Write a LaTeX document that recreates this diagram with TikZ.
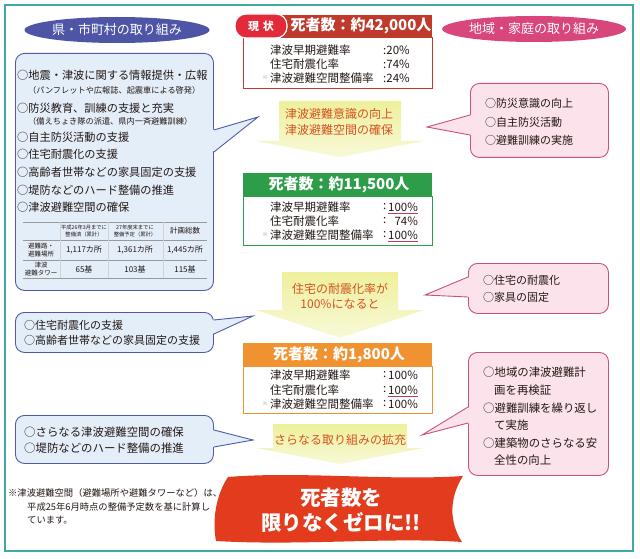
\documentclass[tikz,border=0pt]{standalone}
\usepackage{fontspec}
\setmainfont{Noto Sans CJK JP}
\usetikzlibrary{shapes.geometric,calc}

\definecolor{framecol}{HTML}{3FA9A5}
\definecolor{kenblue}{HTML}{4E55A6}
\definecolor{chiikipink}{HTML}{D9467C}
\definecolor{bluefill}{HTML}{E4EEF9}
\definecolor{blueline}{HTML}{4D5BA8}
\definecolor{pinkfill}{HTML}{FCE3EB}
\definecolor{pinkline}{HTML}{C9507F}
\definecolor{genjored}{HTML}{BF3A2B}
\definecolor{genjotag}{HTML}{E32A3B}
\definecolor{stepgreen}{HTML}{2E9D4A}
\definecolor{steporange}{HTML}{F0922F}
\definecolor{arrowtop}{HTML}{EEF09C}
\definecolor{arrowbot}{HTML}{F8F9D8}
\definecolor{arrowtext}{HTML}{D4521E}
\definecolor{zerored}{HTML}{E33B1E}
\definecolor{ulred}{HTML}{C23A5E}
\definecolor{inktext}{HTML}{231815}

\tikzset{
  headoval/.style={ellipse, inner sep=0pt, text=white, minimum height=26pt,
    font=\fontsize{13}{15}\selectfont},
  bluecall/.style={rectangle, rounded corners=9pt, draw=blueline, fill=bluefill,
    line width=0.9pt, anchor=north west, inner sep=0pt},
  pinkcall/.style={rectangle, rounded corners=9pt, draw=pinkline, fill=pinkfill,
    line width=0.9pt, anchor=north west, inner sep=0pt},
  item/.style={anchor=west, inner sep=0pt, text=inktext, font=\fontsize{11.2}{13}\selectfont},
  subitem/.style={anchor=west, inner sep=0pt, text=inktext, font=\fontsize{8.2}{10}\selectfont},
  dhead/.style={rectangle, anchor=north west, minimum width=189pt, minimum height=22pt, inner sep=0pt},
  dbody/.style={rectangle, anchor=north west, fill=white, line width=0.9pt,
    minimum width=189pt, inner sep=0pt},
  dtitle/.style={text=white, inner sep=0pt, font=\bfseries\fontsize{15}{17}\selectfont},
  rowtxt/.style={anchor=west, inner sep=0pt, text=inktext, font=\fontsize{11.5}{13}\selectfont},
  arrowtxt/.style={align=center, text=arrowtext, inner sep=0pt, font=\fontsize{12}{15.5}\selectfont},
  tabtxt/.style={align=center, inner sep=0pt, text=inktext, font=\fontsize{8}{9}\selectfont},
}

\begin{document}
\begin{tikzpicture}[x=1pt, y=-1pt]
  \useasboundingbox (0,0) rectangle (640,559);
  \fill[white] (0,0) rectangle (640,559);
  \draw[framecol, line width=1.6pt] (5,5) rectangle (633,551);

  % titles
  \node[headoval, fill=kenblue, minimum width=185pt] (kenTitle) at (117,30) {県・市町村の取り組み};
  \node[headoval, fill=chiikipink, minimum width=182pt] (chiikiTitle) at (534,29) {地域・家庭の取り組み};

  % left callouts
  \node[bluecall, minimum width=198pt, minimum height=237pt] (kenA) at (15,53) {};
  \node[bluecall, minimum width=198pt, minimum height=40pt] (kenB) at (15,312) {};
  \node[bluecall, minimum width=198pt, minimum height=48pt] (kenC) at (15,415) {};
  \coordinate (kenAtip) at (258,117);
  \coordinate (kenBtip) at (253,316);
  \coordinate (kenCtip) at (253,440);
  \foreach \b/\u/\l in {kenA/77/99, kenB/8/22, kenC/15/32} {
    \fill[bluefill] ($(\b.north east)+(-1.5,\u)$) -- (\b tip) -- ($(\b.north east)+(-1.5,\l)$) -- cycle;
    \draw[blueline, line width=0.9pt] ($(\b.north east)+(0,\u)$) -- (\b tip) -- ($(\b.north east)+(0,\l)$);
  }

  % right callouts
  \node[pinkcall, minimum width=138pt, minimum height=74pt] (chiikiA) at (470,83) {};
  \node[pinkcall, minimum width=140pt, minimum height=50pt] (chiikiB) at (468,263) {};
  \node[pinkcall, minimum width=140pt, minimum height=123pt] (chiikiC) at (468,352) {};
  \coordinate (chiikiAtip) at (427,127);
  \coordinate (chiikiBtip) at (425,295);
  \coordinate (chiikiCtip) at (422,435);
  \foreach \b/\u/\l in {chiikiA/32/52, chiikiB/14/34, chiikiC/55/71} {
    \fill[pinkfill] ($(\b.north west)+(1.5,\u)$) -- (\b tip) -- ($(\b.north west)+(1.5,\l)$) -- cycle;
    \draw[pinkline, line width=0.9pt] ($(\b.north west)+(0,\u)$) -- (\b tip) -- ($(\b.north west)+(0,\l)$);
  }

  % left texts
  \foreach \y/\t in {75/地震・津波に関する情報提供・広報, 108/防災教育、訓練の支援と充実,
      137/自主防災活動の支援, 154/住宅耐震化の支援, 172/高齢者世帯などの家具固定の支援,
      190/堤防などのハード整備の推進, 207/津波避難空間の確保} {
    \node[item] (kenItem\y) at (17,\y) {○\t};
  }
  \node[subitem] (kenSubA) at (28,90) {（パンフレットや広報誌、起震車による啓発）};
  \node[subitem] (kenSubB) at (28,121) {（備えちょき隊の派遣、県内一斉避難訓練）};

  % table
  \foreach \y in {222,240,260,278} \draw[gray!80, line width=0.6pt] (23,\y) -- (207,\y);
  \foreach \x in {60,108,163} \draw[gray!35, line width=0.5pt] (\x,222) -- (\x,278);
  \node[tabtxt, font=\fontsize{5.3}{6.3}\selectfont] (tabHeadB) at (84,231) {平成26年3月までに\\整備済（累計）};
  \node[tabtxt, font=\fontsize{5.3}{6.3}\selectfont] (tabHeadC) at (135,231) {27年度末までに\\整備予定（累計）};
  \node[tabtxt, font=\fontsize{7.5}{8}\selectfont] (tabHeadD) at (185,231) {計画総数};
  \node[tabtxt, font=\fontsize{6.5}{7.5}\selectfont] (tabRowA) at (41,250) {避難路・\\避難場所};
  \node[tabtxt, font=\fontsize{6.5}{7.5}\selectfont] (tabRowB) at (41,269) {津波\\避難タワー};
  \foreach \x/\a/\b in {84/{1,117カ所}/65基, 135/{1,361カ所}/103基, 185/{1,445カ所}/115基} {
    \node[tabtxt] (tabA\x) at (\x,250) {\a};
    \node[tabtxt] (tabB\x) at (\x,269) {\b};
  }

  \node[item, font=\fontsize{11}{13}\selectfont] (kenB1) at (24,325) {○住宅耐震化の支援};
  \node[item, font=\fontsize{11}{13}\selectfont] (kenB2) at (24,340) {○高齢者世帯などの家具固定の支援};
  \node[item, font=\fontsize{11.4}{13}\selectfont] (kenC1) at (24,432) {○さらなる津波避難空間の確保};
  \node[item, font=\fontsize{11.4}{13}\selectfont] (kenC2) at (24,448) {○堤防などのハード整備の推進};

  % right texts
  \foreach \y/\t in {103/○防災意識の向上, 122/○自主防災活動, 140/○避難訓練の実施} {
    \node[item, font=\fontsize{11}{13}\selectfont] (chiikiA\y) at (485,\y) {\t};
  }
  \foreach \y/\t in {280/○住宅の耐震化, 297/○家具の固定} {
    \node[item, font=\fontsize{11}{13}\selectfont] (chiikiB\y) at (483,\y) {\t};
  }
  \foreach \y/\x/\t in {372/483/○地域の津波避難計, 390/494/画を再検証, 408/483/○避難訓練を繰り返し,
      425/494/て実施, 443/483/○建築物のさらなる安, 460/494/全性の向上} {
    \node[item, font=\fontsize{11.4}{13}\selectfont] (chiikiC\y) at (\x,\y) {\t};
  }

  % current state box
  \node[dbody, draw=genjored, minimum height=51pt] (genjoBody) at (243,37) {};
  \node[dhead, fill=genjored] (genjoHead) at (243,15) {};
  \node[rectangle, rounded corners=11pt, fill=genjotag, draw=white, line width=1.2pt,
    minimum width=52pt, minimum height=24pt, inner sep=0pt, text=white,
    font=\bfseries\fontsize{11}{13}\selectfont] (genjoTag) at (261,26) {現\,\,状};
  \node[dtitle] (genjoTitle) at (361,26) {死者数：約42,000人};
  \foreach \y/\l/\v [count=\k] in {50/津波早期避難率/20, 64/住宅耐震化率/74, 78/津波避難空間整備率/24} {
    \node[rowtxt] (genjoRow\k) at (270,\y) {\l};
    \node[rowtxt] (genjoVal\k) at (383,\y) {:\v\%};
  }
  \node[inner sep=0pt, text=gray, font=\fontsize{5}{5}\selectfont] (genjoMark) at (265,78) {※};

  % green box
  \node[dbody, draw=stepgreen, minimum height=49pt] (greenBody) at (243,196) {};
  \node[dhead, fill=stepgreen, minimum height=23pt] (greenHead) at (243,173) {};
  \node[dtitle] (greenTitle) at (339,184.5) {死者数：約11,500人};
  \foreach \y/\l/\v [count=\k] in {207/津波早期避難率/100, 221/住宅耐震化率/{\phantom{1}74}, 235/津波避難空間整備率/100} {
    \node[rowtxt] (greenRow\k) at (270,\y) {\l};
    \node[rowtxt] (greenCol\k) at (383,\y) {:};
    \node[rowtxt] (greenVal\k) at (388,\y) {\v\%};
  }
  \node[inner sep=0pt, text=gray, font=\fontsize{5}{5}\selectfont] (greenMark) at (265,235) {※};
  \foreach \k in {1,3}
    \draw[ulred, line width=0.8pt] ([yshift=-2pt]greenVal\k.south west) -- ([yshift=-2pt]greenVal\k.south east);

  % orange box
  \node[dbody, draw=steporange, minimum height=47pt] (orangeBody) at (243,366) {};
  \node[dhead, fill=steporange, minimum height=23pt] (orangeHead) at (243,343) {};
  \node[dtitle] (orangeTitle) at (339,354.5) {死者数：約1,800人};
  \foreach \y/\l [count=\k] in {375/津波早期避難率, 390/住宅耐震化率, 404/津波避難空間整備率} {
    \node[rowtxt] (orangeRow\k) at (270,\y) {\l};
    \node[rowtxt] (orangeCol\k) at (383,\y) {:};
    \node[rowtxt] (orangeVal\k) at (388,\y) {100\%};
  }
  \node[inner sep=0pt, text=gray, font=\fontsize{5}{5}\selectfont] (orangeMark) at (265,404) {※};
  \draw[ulred, line width=0.8pt] ([yshift=-2pt]orangeVal2.south west) -- ([yshift=-2pt]orangeVal2.south east);

  % yellow arrows
  \foreach \n/\ta/\tb/\tc/\bw in {A/101/141/157/61, B/272/310/338/58, C/424/448/464/67} {
    \shade[top color=arrowtop, bottom color=arrowbot]
      (340-\bw,\ta) -- (340+\bw,\ta) -- (340+\bw,\tb) -- (424,\tb) -- (340,\tc)
      -- (256,\tb) -- (340-\bw,\tb) -- cycle;
  }
  \node[arrowtxt] (arrowA) at (339,122) {津波避難意識の向上\\津波避難空間の確保};
  \node[arrowtxt] (arrowB) at (340,296) {住宅の耐震化率が\\100\%になると};
  \node[arrowtxt] (arrowC) at (340,440) {さらなる取り組みの拡充};

  % goal banner
  \fill[zerored] (228,477) .. controls (300,471) and (390,481) .. (463,476)
    .. controls (449,498) and (449,522) .. (462,542)
    .. controls (390,537) and (300,546) .. (216,541)
    .. controls (212,520) and (216,495) .. (228,477) -- cycle;
  \node[align=center, text=white, inner sep=0pt, font=\bfseries\fontsize{20.5}{25}\selectfont] (zeroText) at (341,510) {死者数を\\限りなくゼロに!!};

  % note
  \node[subitem, font=\fontsize{9.3}{11}\selectfont] (noteA) at (8,493) {※津波避難空間（避難場所や避難タワーなど）は、};
  \node[subitem, font=\fontsize{9.3}{11}\selectfont] (noteB) at (27,507) {平成25年6月時点の整備予定数を基に計算し};
  \node[subitem, font=\fontsize{9.3}{11}\selectfont] (noteC) at (27,520) {ています。};
\end{tikzpicture}
\end{document}
